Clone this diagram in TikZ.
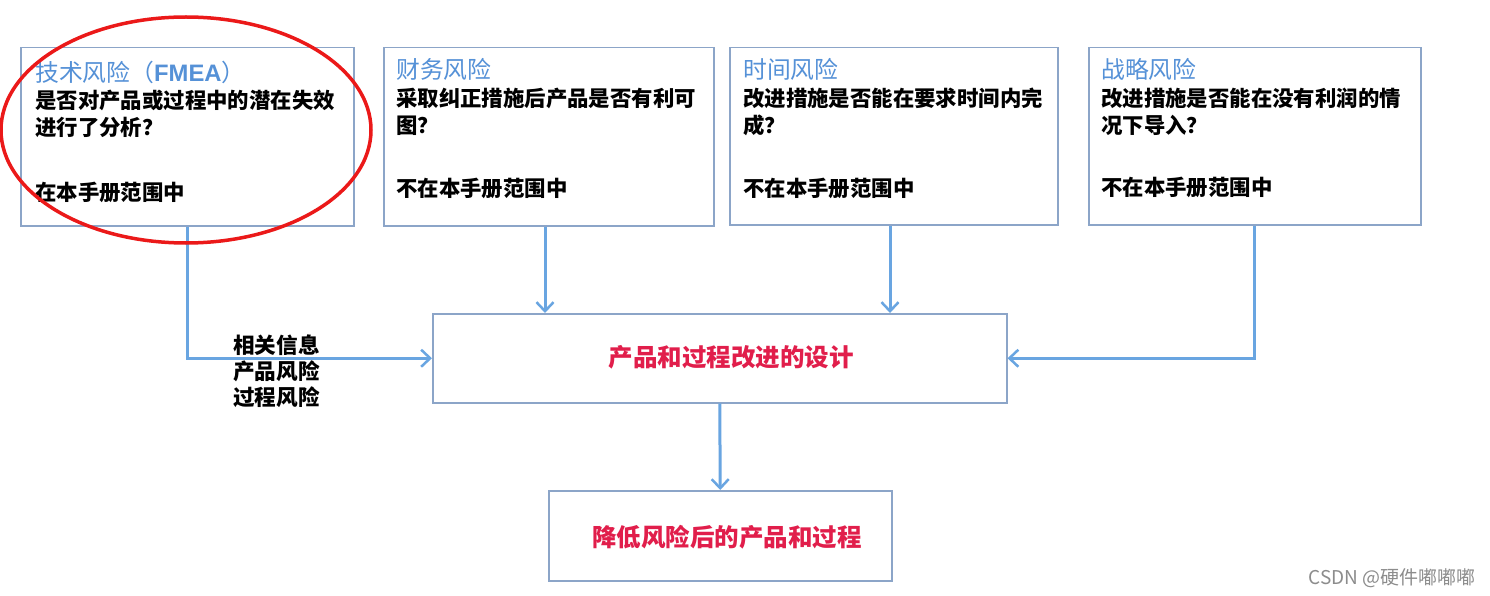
\documentclass[tikz,border=0pt]{standalone}
\usepackage{fontspec}
\setmainfont{Noto Sans CJK SC}
\newfontfamily\latinsans{Liberation Sans}
\usetikzlibrary{arrows.meta}
\definecolor{boxline}{RGB}{140,165,200}
\definecolor{arrowblue}{RGB}{105,165,225}
\definecolor{titleblue}{RGB}{85,145,215}
\definecolor{redtxt}{RGB}{225,30,75}
\definecolor{ringred}{RGB}{235,25,25}
\definecolor{wmgray}{RGB}{140,140,140}
\tikzset{
  riskbox/.style={draw=boxline, line width=1.5pt, fill=white, anchor=north west, inner sep=0pt},
  ttl/.style={anchor=west, inner sep=0pt, text=titleblue, font=\fontsize{23.8}{28}\selectfont},
  body/.style={anchor=west, inner sep=0pt, align=left, text=black, font=\fontsize{21.4}{27.5}\selectfont\bfseries},
  redlbl/.style={text=redtxt, font=\fontsize{24.5}{28}\selectfont\bfseries},
  flow/.style={draw=arrowblue, line width=3pt, -{Straight Barb[length=9pt,width=17pt,line width=2.5pt]}},
}
\begin{document}
\begin{tikzpicture}[x=1pt,y=-1pt]
\useasboundingbox[fill=white] (0,0) rectangle (1490,596);
% top boxes
\node[riskbox, minimum width=333, minimum height=178] (b1) at (20,47) {};
\node[riskbox, minimum width=330, minimum height=178] (b2) at (383,47) {};
\node[riskbox, minimum width=328, minimum height=177] (b3) at (729,47) {};
\node[riskbox, minimum width=332, minimum height=177] (b4) at (1088,47) {};
% box 1 text
\node[ttl] (t1) at (35,72) {技术风险（{\latinsans\bfseries FMEA}）};
\node[body] (q1) at (35,114) {是否对产品或过程中的潜在失效\\进行了分析？};
\node[body] (s1) at (35,192) {在本手册范围中};
% box 2 text
\node[ttl] (t2) at (396,69) {财务风险};
\node[body] (q2) at (396,112) {采取纠正措施后产品是否有利可\\图？};
\node[body] (s2) at (396,188) {不在本手册范围中};
% box 3 text
\node[ttl] (t3) at (743,69) {时间风险};
\node[body] (q3) at (743,112) {改进措施是否能在要求时间内完\\成？};
\node[body] (s3) at (743,188) {不在本手册范围中};
% box 4 text
\node[ttl] (t4) at (1101,69) {战略风险};
\node[body] (q4) at (1101,112) {改进措施是否能在没有利润的情\\况下导入？};
\node[body] (s4) at (1101,187) {不在本手册范围中};
% center boxes
\node[riskbox, minimum width=574, minimum height=89] (c) at (432,313) {};
\node[redlbl] (ct) at (731,357) {产品和过程改进的设计};
\node[riskbox, minimum width=343, minimum height=90] (d) at (548,490) {};
\node[redlbl] (dt) at (727,537) {降低风险后的产品和过程};
% side label
\node[body, font=\fontsize{21.6}{26}\selectfont\bfseries] (info) at (233,371) {相关信息\\产品风险\\过程风险};
% connectors
\draw[flow] (b1.south) |- (c.west);
\draw[flow] (b2.south -| 545,0) -- (545,0 |- c.north);
\draw[flow] (b3.south -| 890,0) -- (890,0 |- c.north);
\draw[flow] (b4.south) |- (c.east);
\draw[flow] (c.south) -- (d.north);
% red ring
\draw[ringred, line width=3.5pt] (186,130) ellipse [x radius=185, y radius=113];
% watermark
\node[anchor=east, inner sep=0pt, text=wmgray, font=\fontsize{19}{21}\selectfont] (wm) at (1476,578) {CSDN @硬件嘟嘟嘟};
\end{tikzpicture}
\end{document}
